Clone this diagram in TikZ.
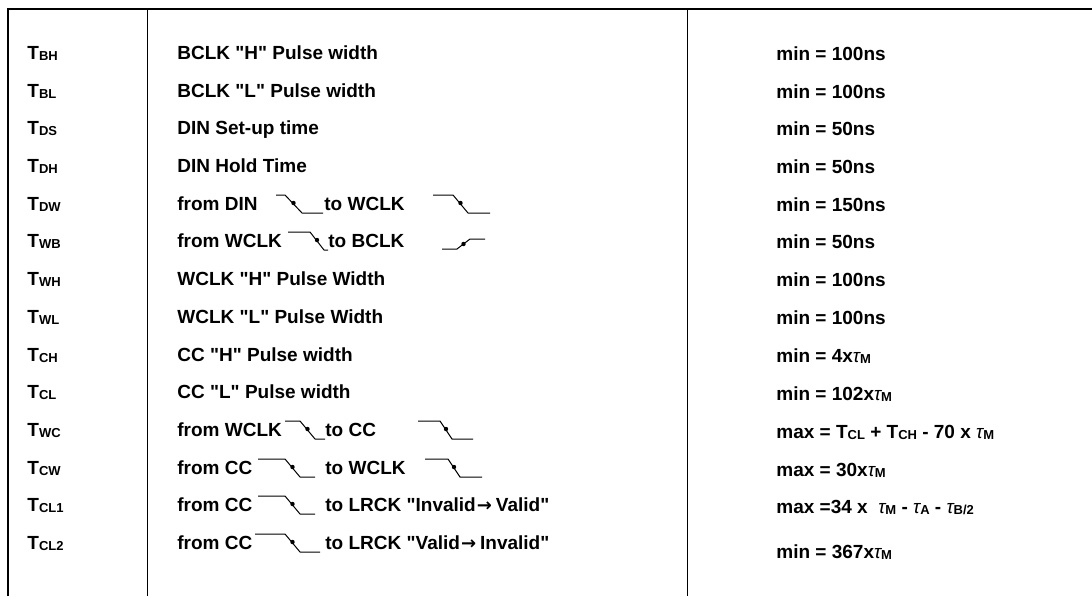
\documentclass[tikz,border=0pt]{standalone}
\usepackage{fontspec}
\setmainfont{Liberation Sans}[Ligatures=TeXOff]
\newfontfamily\arrowfont{DejaVu Sans}
\usepackage{tikz}
\tikzset{txt/.style={anchor=base west,inner sep=0pt,font=\bfseries\fontsize{9.5}{11}\selectfont},
         frame/.style={line width=1pt},
         rule/.style={line width=0.5pt},
         wave/.style={line width=0.5pt},}
\newcommand{\sub}[1]{\raisebox{-0.6pt}{\fontsize{6.5}{6.5}\selectfont #1}}
\newcommand{\tausub}[1]{{\mdseries\itshape τ}\sub{#1}}
\newcommand{\arr}{\kern0.5pt{\arrowfont\fontsize{9}{9}\selectfont →}\kern2pt}
\newcommand{\fall}[5]{\path[draw, wave] (#1,#5-9) -- (#2,#5-9) -- (#3,#5+9) -- (#4,#5+9);
  \fill ({(#2+#3)/2},#5-1) circle (1.1pt);}
\newcommand{\rise}[5]{\path[draw, wave] (#1,#5+8) -- (#2,#5+8) -- (#3,#5-2) -- (#4,#5-2);
  \fill ({(#2+#3)/2},#5+3) circle (1.1pt);}

\begin{document}
\begin{tikzpicture}[x=0.5pt,y=-0.5pt]
        \useasboundingbox (0,0) rectangle (1092,596);
        % frame
        \draw[frame] (8,596) -- (8,9) -- (1092,9);
        \draw[rule] (147,9) -- (147,596);
        \draw[rule] (687,9) -- (687,596);

        % symbols
        \node[txt] (tbh) at (27,59) {T\sub{BH}};
        \node[txt] (tbl) at (27,97) {T\sub{BL}};
        \node[txt] (tds) at (27,134) {T\sub{DS}};
        \node[txt] (tdh) at (27,172) {T\sub{DH}};
        \node[txt] (tdw) at (27,210) {T\sub{DW}};
        \node[txt] (twb) at (27,247) {T\sub{WB}};
        \node[txt] (twh) at (27,285) {T\sub{WH}};
        \node[txt] (twl) at (27,323) {T\sub{WL}};
        \node[txt] (tch) at (27,361) {T\sub{CH}};
        \node[txt] (tcl) at (27,398) {T\sub{CL}};
        \node[txt] (twc) at (27,436) {T\sub{WC}};
        \node[txt] (tcw) at (27,474) {T\sub{CW}};
        \node[txt] (tcla) at (27,511) {T\sub{CL1}};
        \node[txt] (tclb) at (27,549) {T\sub{CL2}};

        % descriptions
        \node[txt] (dbh) at (177,59) {BCLK "H" Pulse width};
        \node[txt] (dbl) at (177,97) {BCLK "L" Pulse width};
        \node[txt] (dds) at (177,134) {DIN Set-up time};
        \node[txt] (ddh) at (177,172) {DIN Hold Time};
        \node[txt] (ddw) at (177,210) {from DIN};
        \node[txt] (ddwb) at (324,210) {to WCLK};
        \node[txt] (dwb) at (177,247) {from WCLK};
        \node[txt] (dwbb) at (328,247) {to BCLK};
        \node[txt] (dwh) at (177,285) {WCLK "H" Pulse Width};
        \node[txt] (dwl) at (177,323) {WCLK "L" Pulse Width};
        \node[txt] (dch) at (177,361) {CC "H" Pulse width};
        \node[txt] (dcl) at (177,398) {CC "L" Pulse width};
        \node[txt] (dwc) at (177,436) {from WCLK};
        \node[txt] (dwcb) at (325,436) {to CC};
        \node[txt] (dcw) at (177,474) {from CC};
        \node[txt] (dcwb) at (325,474) {to WCLK};
        \node[txt] (dcla) at (177,511) {from CC};
        \node[txt] (dclab) at (325,511) {to LRCK "Invalid\arr Valid"};
        \node[txt] (dclb) at (177,549) {from CC};
        \node[txt] (dclbb) at (325,549) {to LRCK "Valid\arr Invalid"};

        % waveforms
        \fall{276}{285}{302}{323}{204}
        \fall{433}{453}{468}{490}{204}
        \fall{288}{310}{324}{328}{241}
        \rise{442}{457}{470}{485}{241}
        \fall{285}{300}{315}{325}{430}
        \fall{418}{440}{452}{473}{430}
        \fall{258}{285}{300}{315}{468}
        \fall{425}{448}{460}{482}{468}
        \fall{258}{285}{300}{315}{505}
        \fall{255}{285}{300}{320}{543}

        % values
        \node[txt] (vbh) at (776,60) {min = 100ns};
        \node[txt] (vbl) at (776,98) {min = 100ns};
        \node[txt] (vds) at (776,135) {min = 50ns};
        \node[txt] (vdh) at (776,173) {min = 50ns};
        \node[txt] (vdw) at (776,211) {min = 150ns};
        \node[txt] (vwb) at (776,248) {min = 50ns};
        \node[txt] (vwh) at (776,286) {min = 100ns};
        \node[txt] (vwl) at (776,324) {min = 100ns};
        \node[txt] (vch) at (776,362) {min = 4x\tausub{M}};
        \node[txt] (vcl) at (776,400) {min = 102x\tausub{M}};
        \node[txt] (vwc) at (776,438) {max = T\sub{CL} + T\sub{CH} - 70 x \tausub{M}};
        \node[txt] (vcw) at (776,476) {max = 30x\tausub{M}};
        \node[txt] (vcla) at (776,513) {max =34 x\ \ \tausub{M} - \tausub{A} - \tausub{B/2}};
        \node[txt] (vclb) at (776,558) {min = 367x\tausub{M}};
    \end{tikzpicture}
\end{document}
